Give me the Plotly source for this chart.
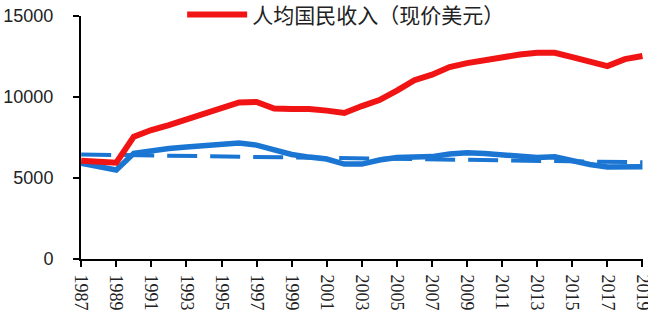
import plotly.graph_objects as go

years = list(range(1987, 2020))

gni_per_capita = [6070, 6020, 5940, 7550, 7960, 8270, 8610, 8980, 9380, 9660,
                  9690, 9290, 9260, 9260, 9160, 9010, 9440, 9810, 10400, 11040,
                  11380, 11850, 12090, 12280, 12490, 12620, 12730, 12730, 12460, 12190,
                  11910, 12340, 12530]

blue_series = [5910, 5710, 5490, 6520, 6690, 6820, 6910, 7000, 7130, 7160,
               7030, 6720, 6450, 6290, 6170, 5860, 5860, 6110, 6260, 6290,
               6320, 6480, 6560, 6510, 6420, 6290, 6260, 6310, 6050, 5830,
               5680, 5680, 5690]

trend_years = [1987, 2019]
trend_values = [6450, 5970]

y_ticks = [0, 5000, 10000, 15000]
x_ticks = list(range(1987, 2020, 2))

RED = "#f01414"
BLUE = "#1a76d2"

fig = go.Figure()
fig.add_trace(go.Scatter(x=trend_years, y=trend_values, mode="lines",
                         line=dict(color=BLUE, width=4, dash="30px,13px"),
                         showlegend=False))
fig.add_trace(go.Scatter(x=years, y=blue_series, mode="lines",
                         line=dict(color=BLUE, width=5.5),
                         showlegend=False))
fig.add_trace(go.Scatter(x=years, y=gni_per_capita, mode="lines",
                         name="人均国民收入（现价美元）",
                         line=dict(color=RED, width=6)))

fig.update_layout(
    width=648, height=324,
    margin=dict(l=81, r=5, t=16, b=65, autoexpand=False),
    paper_bgcolor="white", plot_bgcolor="white",
    font=dict(family="Liberation Sans, Noto Sans CJK SC", color="#222"),
    showlegend=True,
    legend=dict(x=0.18, y=1.005, xanchor="left", yanchor="middle",
                orientation="h", bgcolor="rgba(0,0,0,0)", itemwidth=60,
                font=dict(size=21, family="Noto Sans CJK SC", color="#222")),
    xaxis=dict(range=[1986.99, 2019.03], tickvals=x_ticks, ticktext=[str(v) for v in x_ticks],
               tickangle=90, showline=True, linecolor="black", linewidth=2,
               ticks="outside", ticklen=6, tickwidth=2, tickcolor="black",
               showgrid=False, zeroline=False, ticklabelstandoff=4,
               ticklabeloverflow="allow",
               tickfont=dict(family="Liberation Serif", size=18, color="#222")),
    yaxis=dict(range=[0, 15000], tickvals=y_ticks, ticktext=[str(v) for v in y_ticks],
               showline=True, linecolor="black",
               linewidth=2, ticks="outside", ticklen=6, tickwidth=2, tickcolor="black",
               showgrid=False, zeroline=False, ticklabelstandoff=16,
               tickfont=dict(family="Liberation Sans", size=18, color="#222")),
)

fig.write_html("out.html")
